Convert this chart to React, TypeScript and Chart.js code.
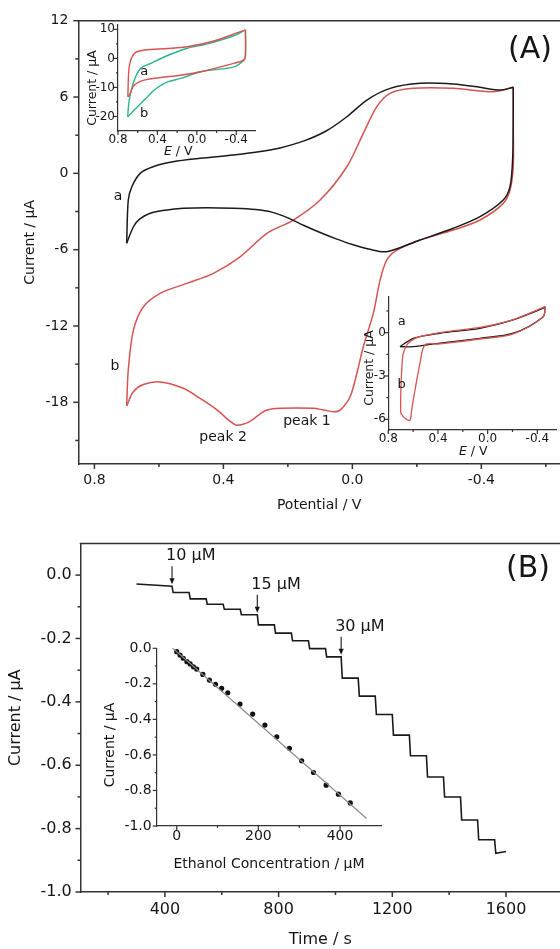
import React, { useEffect, useRef } from "react";
import { Chart, registerables } from "chart.js";
Chart.register(...registerables);

const FONT = "'DejaVu Sans', 'Liberation Sans', Arial, sans-serif";
const TEXT = "#161616";
const AXIS = "#333333";
const BLACK = "#1a1a1a";
const RED = "#d65450";
const GREEN = "#2db38c";

// ---------------- Panel A (main CV) ----------------
// curve a (black), forward scan 0.7 -> -0.5 V
const aFwdE = [0.700, 0.695, 0.684, 0.658, 0.618, 0.556, 0.472, 0.370, 0.290, 0.224, 0.150, 0.080, 0.017, -0.045, -0.117, -0.210, -0.313, -0.396, -0.458, -0.499];
const aFwdI = [-5.50, -2.10, -1.05, 0.00, 0.52, 0.91, 1.18, 1.44, 1.70, 2.00, 2.55, 3.35, 4.45, 5.76, 6.68, 7.08, 7.02, 6.76, 6.55, 6.76];
// curve a, reverse scan -0.5 -> 0.7 V
const aRevE = [-0.499, -0.499, -0.497, -0.489, -0.468, -0.396, -0.313, -0.210, -0.107, -0.050, 0.000, 0.050, 0.100, 0.150, 0.200, 0.250, 0.300, 0.369, 0.450, 0.524, 0.580, 0.627, 0.660, 0.679, 0.700];
const aRevI = [6.76, 4.0, 1.05, -1.05, -2.10, -3.41, -4.32, -5.24, -6.16, -5.95, -5.60, -5.15, -4.65, -4.10, -3.50, -3.05, -2.85, -2.75, -2.70, -2.75, -2.90, -3.14, -3.60, -4.20, -5.50];
// curve b (red)
const bFwdE = [0.700, 0.695, 0.679, 0.648, 0.596, 0.513, 0.431, 0.348, 0.265, 0.183, 0.100, 0.017, -0.034, -0.076, -0.117, -0.189, -0.313, -0.437, -0.499];
const bFwdI = [-18.29, -15.46, -12.32, -10.49, -9.43, -8.65, -7.86, -6.56, -4.72, -3.67, -2.10, 0.52, 3.14, 5.24, 6.29, 6.68, 6.68, 6.42, 6.76];
const bRevE = [-0.499, -0.499, -0.499, -0.489, -0.468, -0.396, -0.313, -0.210, -0.138, -0.107, -0.086, -0.065, -0.034, -0.014, 0.007, 0.038, 0.059, 0.090, 0.121, 0.224, 0.265, 0.286, 0.317, 0.358, 0.379, 0.420, 0.472, 0.524, 0.596, 0.648, 0.679, 0.700];
const bRevI = [6.76, 3.5, 0.52, -1.31, -2.36, -3.67, -4.46, -5.24, -6.03, -6.81, -8.39, -11.01, -13.63, -15.72, -17.56, -18.61, -18.74, -18.60, -18.47, -18.47, -18.61, -18.9, -19.5, -19.8, -19.5, -18.6, -17.7, -16.9, -16.4, -16.6, -17.15, -18.29];

const axA_xTicks = [0.8, 0.6, 0.4, 0.2, 0.0, -0.2, -0.4, -0.6];
const axA_xLabels = ["0.8", "", "0.4", "", "0.0", "", "-0.4", ""];
const axA_yTicks = [12, 9, 6, 3, 0, -3, -6, -9, -12, -15, -18, -21];
const axA_yLabels = ["12", "", "6", "", "0", "", "-6", "", "-12", "", "-18", ""];

// ---------------- Inset A1 (top-left) ----------------
const i1RedFwdE = [0.70, 0.686, 0.635, 0.534, 0.298, 0.096, -0.173, -0.442, -0.493];
const i1RedFwdI = [-13.2, -2.9, 1.7, 2.9, 3.4, 4.0, 6.0, 9.2, 9.8];
const i1RedRevE = [-0.493, -0.493, -0.476, -0.375, -0.038, 0.164, 0.366, 0.534, 0.635, 0.686, 0.70];
const i1RedRevI = [9.8, 1.1, -0.6, -1.7, -4.6, -5.8, -6.6, -7.5, -9.2, -12.7, -13.2];
const i1GreenFwdE = [0.702, 0.686, 0.635, 0.568, 0.467, 0.298, 0.096, -0.106, -0.375, -0.493];
const i1GreenFwdI = [-20.1, -14.4, -7.5, -3.4, -1.7, 1.0, 3.5, 5.0, 7.8, 9.8];
const i1GreenRevE = [-0.493, -0.493, -0.476, -0.375, -0.038, 0.164, 0.298, 0.433, 0.5, 0.568, 0.635, 0.686, 0.702];
const i1GreenRevI = [9.8, 1.1, -0.6, -2.9, -4.6, -6.9, -8.1, -10.9, -13.2, -15.5, -17.8, -19.6, -20.1];
const i1_xTicks = [0.8, 0.6, 0.4, 0.2, 0.0, -0.2, -0.4];
const i1_xLabels = ["0.8", "", "0.4", "", "0.0", "", "-0.4"];
const i1_yTicks = [10, 5, 0, -5, -10, -15, -20];
const i1_yLabels = ["10", "", "0", "", "-10", "", "-20"];

// ---------------- Inset A2 (bottom-right) ----------------
const i2BlackFwdE = [0.706, 0.599, 0.384, 0.062, -0.206, -0.448, -0.462];
const i2BlackFwdI = [-0.97, -0.39, -0.04, 0.30, 0.88, 1.69, 1.80];
const i2BlackRevE = [-0.462, -0.448, -0.206, 0.062, 0.384, 0.599, 0.706];
const i2BlackRevI = [1.80, 1.11, -0.04, -0.39, -0.73, -0.97, -0.97];
const i2RedRevE = [-0.462, -0.448, -0.206, 0.062, 0.384, 0.505, 0.545, 0.585, 0.612, 0.625, 0.666, 0.700];
const i2RedRevI = [1.80, 1.11, -0.09, -0.44, -0.78, -0.85, -2.12, -3.97, -5.35, -6.05, -5.93, -5.58];
const i2RedFwdE = [0.700, 0.700, 0.692, 0.679, 0.639, 0.545, 0.330, 0.062, -0.206, -0.448, -0.462];
const i2RedFwdI = [-5.58, -4.43, -2.58, -1.43, -0.73, -0.28, 0.07, 0.36, 0.91, 1.75, 1.80];
const i2_xTicks = [0.8, 0.6, 0.4, 0.2, 0.0, -0.2, -0.4];
const i2_xLabels = ["0.8", "", "0.4", "", "0.0", "", "-0.4"];
const i2_yTicks = [1.5, 0, -1.5, -3, -4.5, -6];
const i2_yLabels = ["", "0", "", "-3", "", "-6"];

// ---------------- Panel B (amperometry) ----------------
const baseTimes = [300, 425];
const baseCurrents = [-0.028, -0.035];
const stepTimes = [425, 485, 545, 605, 665, 725, 785, 845, 905, 965, 1020, 1080, 1140, 1200, 1260, 1320, 1380, 1440, 1500, 1560];
const stepLevels = [-0.055, -0.075, -0.092, -0.108, -0.125, -0.157, -0.183, -0.207, -0.232, -0.258, -0.325, -0.382, -0.44, -0.505, -0.57, -0.637, -0.70, -0.773, -0.835, -0.878];
const endTime = 1600;
const endCurrent = -0.872;
const arrowTimes = [425, 725, 1020];
const arrowCurrents = [-0.035, -0.125, -0.258];
const arrowLabels = ["10 μM", "15 μM", "30 μM"];
const axB_xTicks = [200, 400, 600, 800, 1000, 1200, 1400, 1600];
const axB_xLabels = ["", "400", "", "800", "", "1200", "", "1600"];
const axB_yTicks = [0.0, -0.1, -0.2, -0.3, -0.4, -0.5, -0.6, -0.7, -0.8, -0.9, -1.0];
const axB_yLabels = ["0.0", "", "-0.2", "", "-0.4", "", "-0.6", "", "-0.8", "", "-1.0"];

// ---------------- Inset B (calibration) ----------------
const calConc = [0, 8, 16, 25, 33, 41, 49, 64, 80, 95, 110, 125, 155, 186, 216, 245, 276, 306, 335, 366, 396, 425];
const calCurrent = [-0.019, -0.038, -0.056, -0.075, -0.088, -0.104, -0.117, -0.147, -0.179, -0.203, -0.225, -0.25, -0.314, -0.37, -0.432, -0.498, -0.563, -0.633, -0.699, -0.77, -0.821, -0.87];
const fitConc = [-12, 465];
const fitCurrent = [0.005, -0.958];
const iB_xTicks = [0, 100, 200, 300, 400];
const iB_xLabels = ["0", "", "200", "", "400"];
const iB_yTicks = [0.0, -0.1, -0.2, -0.3, -0.4, -0.5, -0.6, -0.7, -0.8, -0.9, -1.0];
const iB_yLabels = ["0.0", "", "-0.2", "", "-0.4", "", "-0.6", "", "-0.8", "", "-1.0"];

// ---------------- helpers ----------------
const zip = (xs: number[], ys: number[]) => xs.map((x, i) => ({ x, y: ys[i] }));

function buildStaircase() {
  const pts: { x: number; y: number }[] = zip(baseTimes, baseCurrents);
  stepTimes.forEach((t, i) => {
    const prev = i === 0 ? baseCurrents[baseCurrents.length - 1] : stepLevels[i - 1];
    if (i > 0) pts.push({ x: t, y: prev });
    pts.push({ x: t + 4, y: stepLevels[i] });
  });
  pts.push({ x: endTime, y: endCurrent });
  return pts;
}

type Part = { t: string; italic?: boolean };
type TextItem = { parts: Part[]; x: number; y: number; size: number; rotate?: boolean; data?: boolean; align?: "left" | "center" | "right" };
type AxisCfg = { min: number; max: number; reverse?: boolean; ticks: number[]; labels: string[]; font: number; pad: number; title?: string; titleFont?: number; titlePad?: number };
type PanelCfg = {
  box: { x: number; y: number; w: number; h: number };
  area: { l: number; t: number; r: number; b: number };
  x: AxisCfg; y: AxisCfg;
  datasets: any[];
  topBorder?: boolean;
  tickLen: [number, number];
  axisWidth: number;
  texts: TextItem[];
  arrows?: boolean;
};

function line(data: any[], color: string, width: number, tension = 0.3) {
  return { data, borderColor: color, borderWidth: width, pointRadius: 0, showLine: true, tension, fill: false };
}

function drawText(ctx: CanvasRenderingContext2D, item: TextItem, px: number, py: number) {
  ctx.save();
  ctx.translate(px, py);
  if (item.rotate) ctx.rotate(-Math.PI / 2);
  const fonts = item.parts.map((p) => `${p.italic ? "italic " : ""}${item.size}px ${FONT}`);
  let total = 0;
  const widths = item.parts.map((p, i) => { ctx.font = fonts[i]; const w = ctx.measureText(p.t).width; total += w; return w; });
  let x0 = item.align === "left" ? 0 : item.align === "right" ? -total : -total / 2;
  ctx.textBaseline = "middle";
  ctx.textAlign = "left";
  ctx.fillStyle = TEXT;
  item.parts.forEach((p, i) => { ctx.font = fonts[i]; ctx.fillText(p.t, x0, 0); x0 += widths[i]; });
  ctx.restore();
}

function makeDecor(cfg: PanelCfg) {
  return {
    id: "decor",
    afterDraw(chart: any) {
      const ctx: CanvasRenderingContext2D = chart.ctx;
      const sx = chart.scales.x, sy = chart.scales.y;
      const ca = chart.chartArea;
      ctx.save();
      ctx.strokeStyle = AXIS;
      ctx.lineWidth = cfg.axisWidth;
      for (const t of sx.ticks) {
        const p = sx.getPixelForValue(t.value);
        const len = t.label ? cfg.tickLen[0] : cfg.tickLen[1];
        ctx.beginPath(); ctx.moveTo(p, ca.bottom); ctx.lineTo(p, ca.bottom + len); ctx.stroke();
      }
      for (const t of sy.ticks) {
        const p = sy.getPixelForValue(t.value);
        const len = t.label ? cfg.tickLen[0] : cfg.tickLen[1];
        ctx.beginPath(); ctx.moveTo(ca.left, p); ctx.lineTo(ca.left - len, p); ctx.stroke();
      }
      if (cfg.topBorder) {
        ctx.beginPath(); ctx.moveTo(ca.left - cfg.axisWidth / 2, ca.top); ctx.lineTo(ca.right, ca.top); ctx.stroke();
      }
      if (cfg.arrows) {
        ctx.lineWidth = 1.1;
        ctx.fillStyle = TEXT;
        ctx.strokeStyle = TEXT;
        arrowTimes.forEach((t, i) => {
          const px = sx.getPixelForValue(t);
          const py = sy.getPixelForValue(arrowCurrents[i]);
          ctx.beginPath(); ctx.moveTo(px, py - 20); ctx.lineTo(px, py - 6); ctx.stroke();
          ctx.beginPath(); ctx.moveTo(px, py - 2); ctx.lineTo(px - 2.6, py - 8); ctx.lineTo(px + 2.6, py - 8); ctx.closePath(); ctx.fill();
          drawText(ctx, { parts: [{ t: arrowLabels[i] }], x: 0, y: 0, size: 16, align: "left" }, px - 6, py - 30);
        });
      }
      for (const item of cfg.texts) {
        let px: number, py: number;
        if (item.data) { px = sx.getPixelForValue(item.x); py = sy.getPixelForValue(item.y); }
        else { px = item.x - cfg.box.x; py = item.y - cfg.box.y; }
        drawText(ctx, item, px, py);
      }
      ctx.restore();
    },
  };
}

function axisOpts(a: AxisCfg, horizontal: boolean, cfg: PanelCfg) {
  const label = (val: any) => {
    const i = a.ticks.findIndex((t) => Math.abs(t - val) < 1e-9);
    return i >= 0 ? a.labels[i] : "";
  };
  return {
    type: "linear",
    position: horizontal ? "bottom" : "left",
    min: a.min, max: a.max, reverse: !!a.reverse,
    afterBuildTicks: (s: any) => { s.ticks = a.ticks.map((v) => ({ value: v })); },
    afterFit: (s: any) => {
      if (horizontal) s.height = cfg.box.y + cfg.box.h - cfg.area.b;
      else s.width = cfg.area.l - cfg.box.x;
    },
    ticks: { autoSkip: false, maxRotation: 0, minRotation: 0, padding: a.pad, color: TEXT, font: { size: a.font, family: FONT }, callback: label },
    grid: { display: false, drawTicks: false },
    border: { display: true, color: AXIS, width: cfg.axisWidth },
    title: a.title
      ? { display: true, text: a.title, color: TEXT, font: { size: a.titleFont, family: FONT }, padding: { top: a.titlePad, bottom: a.titlePad } }
      : { display: false },
  };
}

function ChartBox({ cfg }: { cfg: PanelCfg }) {
  const ref = useRef<HTMLCanvasElement>(null);
  useEffect(() => {
    const chart = new Chart(ref.current as HTMLCanvasElement, {
      type: "scatter",
      data: { datasets: cfg.datasets },
      options: {
        animation: false,
        responsive: false,
        maintainAspectRatio: false,
        devicePixelRatio: 1,
        events: [],
        layout: { padding: { left: 0, bottom: 0, top: cfg.area.t - cfg.box.y, right: cfg.box.x + cfg.box.w - cfg.area.r } },
        plugins: { legend: { display: false }, tooltip: { enabled: false } },
        scales: { x: axisOpts(cfg.x, true, cfg), y: axisOpts(cfg.y, false, cfg) } as any,
      } as any,
      plugins: [makeDecor(cfg)],
    } as any);
    return () => chart.destroy();
  }, []);
  return (
    <canvas
      ref={ref}
      width={cfg.box.w}
      height={cfg.box.h}
      style={{ position: "absolute", left: cfg.box.x, top: cfg.box.y, width: cfg.box.w, height: cfg.box.h }}
    />
  );
}

// ---------------- panel configs ----------------
const mainA: PanelCfg = {
  box: { x: 0, y: 0, w: 560, h: 520 },
  area: { l: 78.3, t: 20.7, r: 560, b: 464 },
  x: { min: -0.644, max: 0.85, reverse: true, ticks: axA_xTicks, labels: axA_xLabels, font: 14, pad: 7.6, title: "Potential / V", titleFont: 14, titlePad: 6.6 },
  y: { min: -22.85, max: 12, ticks: axA_yTicks, labels: axA_yLabels, font: 14, pad: 10, title: "Current / μA", titleFont: 14, titlePad: 21.6 },
  datasets: [
    line(zip(aFwdE, aFwdI), BLACK, 1.5),
    line(zip(aRevE, aRevI), BLACK, 1.5),
    line(zip(bFwdE, bFwdI), RED, 1.5),
    line(zip(bRevE, bRevI), RED, 1.5),
  ],
  topBorder: true,
  tickLen: [5, 3],
  axisWidth: 1.5,
  texts: [
    { parts: [{ t: "(A)" }], x: 530, y: 50, size: 30 },
    { parts: [{ t: "a" }], x: 0.7265, y: -1.78, size: 14, data: true },
    { parts: [{ t: "b" }], x: 0.736, y: -15.2, size: 14, data: true },
    { parts: [{ t: "peak 1" }], x: 0.141, y: -19.47, size: 14, data: true },
    { parts: [{ t: "peak 2" }], x: 0.401, y: -20.73, size: 14, data: true },
  ],
};

const insetA1: PanelCfg = {
  box: { x: 70, y: 10, w: 200, h: 160 },
  area: { l: 118, t: 25, r: 255, b: 131 },
  x: { min: -0.59, max: 0.8, reverse: true, ticks: i1_xTicks, labels: i1_xLabels, font: 12, pad: 2 },
  y: { min: -25, max: 11.5, ticks: i1_yTicks, labels: i1_yLabels, font: 12, pad: 3 },
  datasets: [
    line(zip(i1RedFwdE, i1RedFwdI), RED, 1.4),
    line(zip(i1RedRevE, i1RedRevI), RED, 1.4),
    line(zip(i1GreenFwdE, i1GreenFwdI), GREEN, 1.4),
    line(zip(i1GreenRevE, i1GreenRevI), GREEN, 1.4),
  ],
  tickLen: [4, 2],
  axisWidth: 1.2,
  texts: [
    { parts: [{ t: "Current / μA" }], x: 93, y: 88, size: 12.5, rotate: true },
    { parts: [{ t: "E", italic: true }, { t: " / V" }], x: 178.3, y: 151.7, size: 12.5 },
    { parts: [{ t: "a" }], x: 0.534, y: -4.6, size: 13, data: true },
    { parts: [{ t: "b" }], x: 0.534, y: -19.0, size: 13, data: true },
  ],
};

const insetA2: PanelCfg = {
  box: { x: 340, y: 285, w: 220, h: 185 },
  area: { l: 388.3, t: 296.7, r: 556.7, b: 430 },
  x: { min: -0.556, max: 0.8, reverse: true, ticks: i2_xTicks, labels: i2_xLabels, font: 12, pad: 1.5 },
  y: { min: -6.74, max: 2.49, ticks: i2_yTicks, labels: i2_yLabels, font: 12, pad: 2.5 },
  datasets: [
    line(zip(i2RedRevE, i2RedRevI), RED, 1.3),
    line(zip(i2RedFwdE, i2RedFwdI), RED, 1.3),
    line(zip(i2BlackFwdE, i2BlackFwdI), BLACK, 1.3),
    line(zip(i2BlackRevE, i2BlackRevI), BLACK, 1.3),
  ],
  tickLen: [4, 2],
  axisWidth: 1.2,
  texts: [
    { parts: [{ t: "Current / μA" }], x: 370, y: 368, size: 12.5, rotate: true },
    { parts: [{ t: "E", italic: true }, { t: " / V" }], x: 473.3, y: 451.7, size: 12.5 },
    { parts: [{ t: "a" }], x: 0.692, y: 0.76, size: 13, data: true },
    { parts: [{ t: "b" }], x: 0.692, y: -3.62, size: 13, data: true },
  ],
};

const mainB: PanelCfg = {
  box: { x: 0, y: 525, w: 560, h: 424 },
  area: { l: 80.5, t: 540.7, r: 560, b: 892 },
  x: { min: 103, max: 1790, ticks: axB_xTicks, labels: axB_xLabels, font: 16, pad: 8.4, title: "Time / s", titleFont: 16, titlePad: 0 },
  y: { min: -1.0, max: 0.1, ticks: axB_yTicks, labels: axB_yLabels, font: 16, pad: 8.8, title: "Current / μA", titleFont: 16, titlePad: 6.4 },
  datasets: [line(buildStaircase(), BLACK, 1.6, 0)],
  topBorder: true,
  tickLen: [5, 3],
  axisWidth: 1.5,
  arrows: true,
  texts: [{ parts: [{ t: "(B)" }], x: 528, y: 569, size: 30 }],
};

const insetB: PanelCfg = {
  box: { x: 90, y: 630, w: 310, h: 250 },
  area: { l: 156.7, t: 648.3, r: 381.7, b: 826 },
  x: { min: -49, max: 502, ticks: iB_xTicks, labels: iB_xLabels, font: 14, pad: 2.3 },
  y: { min: -1.0, max: 0.0, ticks: iB_yTicks, labels: iB_yLabels, font: 14, pad: 5 },
  datasets: [
    line(zip(fitConc, fitCurrent), "#8a8a8a", 1.2, 0),
    { data: zip(calConc, calCurrent), showLine: false, pointRadius: 2.6, pointBackgroundColor: "#111", pointBorderWidth: 0, borderColor: "#111" },
  ],
  tickLen: [4, 2],
  axisWidth: 1.2,
  texts: [
    { parts: [{ t: "Current / μA" }], x: 110, y: 745, size: 14, rotate: true },
    { parts: [{ t: "Ethanol Concentration / μM" }], x: 269, y: 864, size: 14 },
  ],
};

export default function App() {
  return (
    <div style={{ position: "absolute", left: 0, top: 0, width: 560, height: 949, background: "#fff", overflow: "hidden" }}>
      <ChartBox cfg={mainA} />
      <ChartBox cfg={insetA1} />
      <ChartBox cfg={insetA2} />
      <ChartBox cfg={mainB} />
      <ChartBox cfg={insetB} />
    </div>
  );
}
